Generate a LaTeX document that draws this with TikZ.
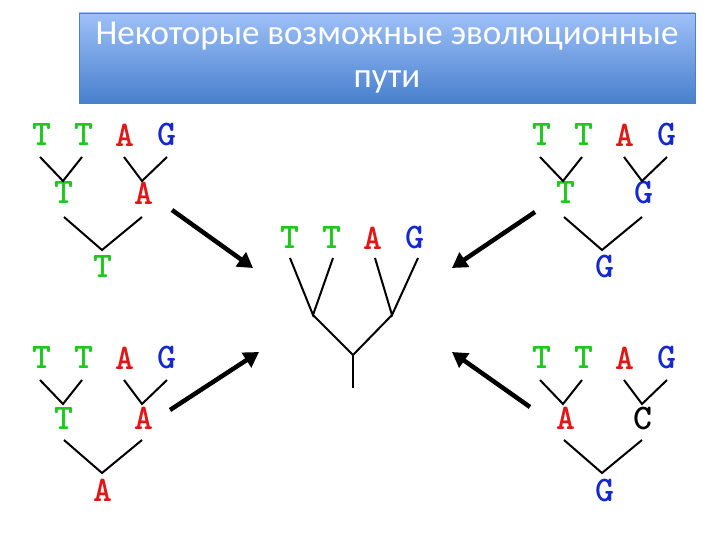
\documentclass[tikz,border=0pt]{standalone}
\usepackage{fontspec}
\setmainfont{Carlito}
\usetikzlibrary{arrows.meta}
\definecolor{tg}{RGB}{30,200,30}
\definecolor{ta}{RGB}{230,20,20}
\definecolor{tb}{RGB}{20,40,210}
\definecolor{toptitle}{RGB}{158,192,248}
\definecolor{bottitle}{RGB}{72,128,205}
\tikzset{
 L/.style={font=\ttfamily\bfseries\fontsize{36}{36}\selectfont, inner sep=0pt},
 Tn/.style={L,text=tg}, An/.style={L,text=ta}, Gn/.style={L,text=tb}, Cn/.style={L,text=black},
 br/.style={line width=2pt},
 bigarrow/.style={line width=4.5pt,-{Triangle[length=15pt,width=17pt]}},
}
\newcommand{\rowfour}[3]{% prefix, x0, y
 \node[Tn] (#1a) at (#2,#3) {T};
 \node[Tn] (#1b) at (#2+42,#3) {T};
 \node[An] (#1c) at (#2+83,#3) {A};
 \node[Gn] (#1d) at (#2+125,#3) {G};}
\newcommand{\treelines}[2]{% x0, y0 of top row letters
 \draw[br] (#1-2,#2+22) -- (#1+21,#2+46) -- (#1+40,#2+22);
 \draw[br] (#1+82,#2+22) -- (#1+100,#2+46) -- (#1+125,#2+22);
 \draw[br] (#1+22,#2+82) -- (#1+60,#2+115) -- (#1+100,#2+82);}
\begin{document}
\begin{tikzpicture}[x=1pt,y=-1pt]
\useasboundingbox (0,0) rectangle (720,540);
\fill[white] (0,0) rectangle (720,540);
\node[draw=bottitle!80!gray, line width=0.5pt, top color=toptitle, bottom color=bottitle, minimum width=616pt, minimum height=90pt, text=white, align=center, font=\fontsize{35}{43}\selectfont, inner sep=0pt] (title) at (387,58) {Некоторые возможные эволюционные\\пути};
% top-left
\rowfour{p}{42}{135}
\node[Tn] (p1) at (64,193) {T};
\node[An] (p2) at (144,193) {A};
\node[Tn] (p3) at (103,267) {T};
\treelines{42}{135}
% top-right
\rowfour{q}{542}{135}
\node[Tn] (q1) at (566,193) {T};
\node[Gn] (q2) at (644,193) {G};
\node[Gn] (q3) at (605,267) {G};
\treelines{542}{135}
% bottom-left
\rowfour{r}{42}{358}
\node[Tn] (r1) at (64,418) {T};
\node[An] (r2) at (144,418) {A};
\node[An] (r3) at (103,490) {A};
\treelines{42}{358}
% bottom-right
\rowfour{s}{542}{358}
\node[An] (s1) at (566,418) {A};
\node[Cn] (s2) at (643,418) {C};
\node[Gn] (s3) at (605,490) {G};
\treelines{542}{358}
% center
\rowfour{c}{290}{238}
\coordinate (cj1) at (313,315); \coordinate (cj2) at (392,315); \coordinate (cj3) at (353,355); \coordinate (root) at (353,388);
\draw[br] (290,258) -- (cj1) -- (333,258); \draw[br] (375,258) -- (cj2) -- (418,258);
\draw[br] (cj1) -- (cj3) -- (cj2); \draw[br] (cj3) -- (root);
% arrows
\coordinate (a1s) at (172,210); \coordinate (a1e) at (253,268);
\coordinate (a2s) at (535,212); \coordinate (a2e) at (452,268);
\coordinate (a3s) at (170,410); \coordinate (a3e) at (259,352);
\coordinate (a4s) at (530,407); \coordinate (a4e) at (452,352);
\draw[bigarrow] (a1s) -- (a1e);
\draw[bigarrow] (a2s) -- (a2e);
\draw[bigarrow] (a3s) -- (a3e);
\draw[bigarrow] (a4s) -- (a4e);
\end{tikzpicture}
\end{document}
